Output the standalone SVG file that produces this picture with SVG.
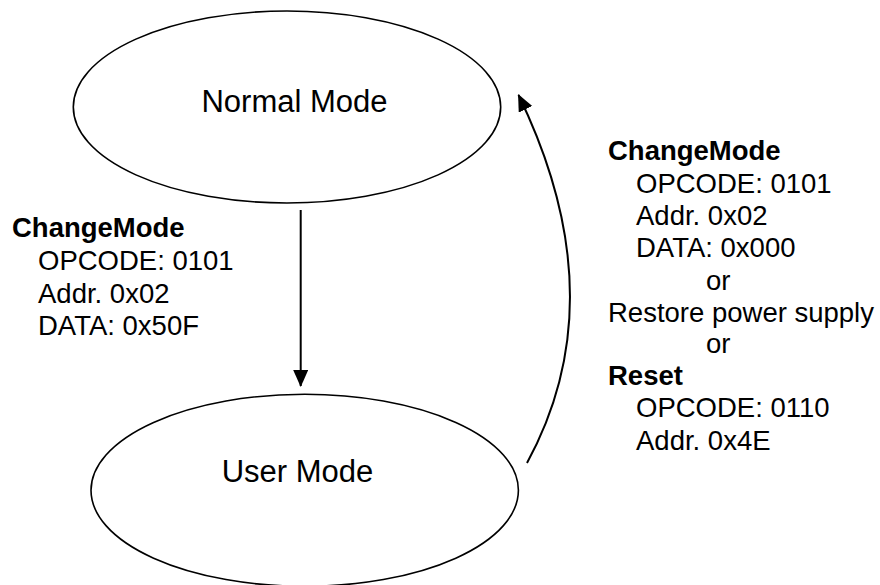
<svg xmlns="http://www.w3.org/2000/svg" width="880" height="585" viewBox="0 0 880 585">
<style>
.state{fill:#fff;stroke:#000;stroke-width:1.6}
.name{font-family:"Liberation Sans",Arial,sans-serif;font-size:31px;fill:#000;text-anchor:middle}
.lbl{font-family:"Liberation Sans",Arial,sans-serif;font-size:27.5px;fill:#000}
.b{font-weight:bold}
.edge{fill:none;stroke:#000;stroke-width:2}
</style>
<defs>
<marker id="arr" markerUnits="userSpaceOnUse" markerWidth="18" markerHeight="16" refX="16" refY="7.5" orient="auto">
<path d="M0,0 L17,7.5 L0,15 z" fill="#000"/>
</marker>
</defs>
<rect width="880" height="585" fill="#fff"/>
<g id="normal-mode">
<ellipse class="state" cx="287" cy="107" rx="213.7" ry="96"/>
<text class="name" x="294.5" y="112">Normal Mode</text>
</g>
<g id="user-mode">
<ellipse class="state" cx="304.7" cy="490.3" rx="213.7" ry="96"/>
<text class="name" x="297.5" y="482">User Mode</text>
</g>
<g id="connectors">
<path class="edge" d="M300.7,210 L300.7,386" marker-end="url(#arr)"/>
<path class="edge" d="M527,463 Q617,298 518.5,95" marker-end="url(#arr)"/>
</g>
<g id="label-left">
<text class="lbl b" x="12" y="237">ChangeMode</text>
<text class="lbl" x="38" y="270">OPCODE: 0101</text>
<text class="lbl" x="38" y="303">Addr. 0x02</text>
<text class="lbl" x="38" y="335">DATA: 0x50F</text>
</g>
<g id="label-right">
<text class="lbl b" x="608" y="160">ChangeMode</text>
<text class="lbl" x="636" y="193">OPCODE: 0101</text>
<text class="lbl" x="636" y="225">Addr. 0x02</text>
<text class="lbl" x="636" y="257">DATA: 0x000</text>
<text class="lbl" x="706" y="290">or</text>
<text class="lbl" x="608" y="322">Restore power supply</text>
<text class="lbl" x="706" y="353">or</text>
<text class="lbl b" x="608" y="385">Reset</text>
<text class="lbl" x="636" y="417">OPCODE: 0110</text>
<text class="lbl" x="636" y="450">Addr. 0x4E</text>
</g>
</svg>
